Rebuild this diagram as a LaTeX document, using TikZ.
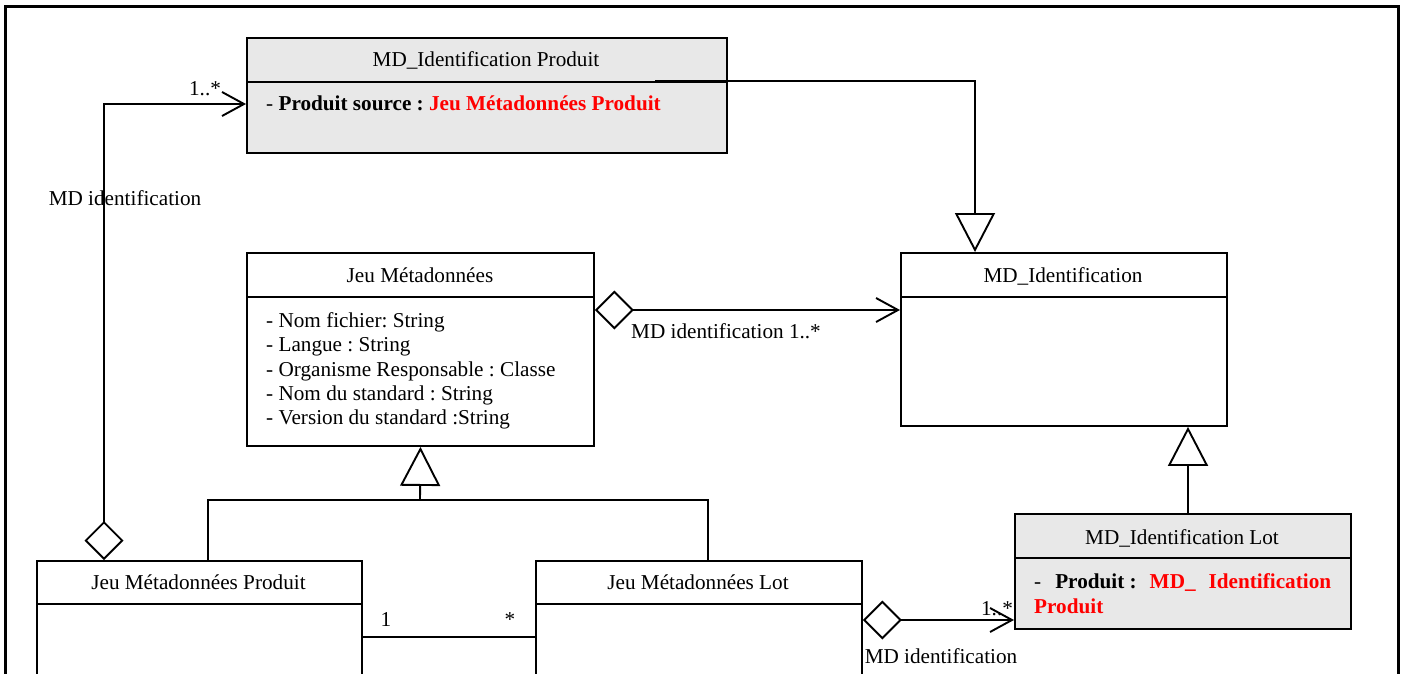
\documentclass[tikz,border=0pt]{standalone}
\usepackage{fontspec}
\setmainfont{Liberation Serif}
\usetikzlibrary{arrows.meta}
\definecolor{umlgray}{HTML}{E8E8E8}
\definecolor{umlred}{HTML}{FF0000}
\newcommand{\umlfont}{\fontsize{21.2pt}{24.3pt}\selectfont\frenchspacing}
\begin{document}
\begin{tikzpicture}[x=1pt,y=-1pt,
  umlbox/.style={draw, line width=1.9pt, inner sep=0pt, anchor=north west},
  line/.style={draw, line width=1.9pt},
  gen/.style={line, -{Triangle[open, fill=white, length=39pt, width=40pt]}},
  agg/.style={line, {Diamond[open, fill=white, length=39pt, width=39pt]}-{Straight Barb[length=22pt, width=24pt]}},
  txt/.style={inner sep=0pt, font=\umlfont, text height=14pt, text depth=0pt},
  attr/.style={txt, anchor=west},
  hl/.style={text=umlred}]
\useasboundingbox (0,0) rectangle (1405,674);
\clip (0,0) rectangle (1405,674);

% outer frame
\draw[line width=3pt] (5,7) rectangle (1398,700);

% classes
\node[umlbox, fill=umlgray, minimum width=480pt, minimum height=115pt] (mdip) at (246,37) {};
\draw[line] ([yshift=-45pt]mdip.north west) -- ([yshift=-45pt]mdip.north east);
\node[txt] (mdipT) at (486,60) {MD\_Identification Produit};
\node[attr] (mdipA) at (266,104) {- \textbf{Produit source : }\textbf{\textcolor{umlred}{Jeu Métadonnées Produit}}};

\node[umlbox, minimum width=326pt, minimum height=173pt] (mdi) at (900,252) {};
\draw[line] ([yshift=-45pt]mdi.north west) -- ([yshift=-45pt]mdi.north east);
\node[txt] (mdiT) at (1063,275) {MD\_Identification};

\node[umlbox, minimum width=347pt, minimum height=193pt] (jm) at (246,252) {};
\draw[line] ([yshift=-45pt]jm.north west) -- ([yshift=-45pt]jm.north east);
\node[txt] (jmT) at (420,275) {Jeu Métadonnées};
\node[attr] (jma1) at (266,320) {- Nom fichier: String};
\node[attr] (jma2) at (266,344) {- Langue : String};
\node[attr] (jma3) at (266,369) {- Organisme Responsable : Classe};
\node[attr] (jma4) at (266,393) {- Nom du standard : String};
\node[attr] (jma5) at (266,417) {- Version du standard :String};

\node[umlbox, minimum width=325pt, minimum height=140pt] (jmp) at (36,560) {};
\draw[line] ([yshift=-44pt]jmp.north west) -- ([yshift=-44pt]jmp.north east);
\node[txt] (jmpT) at (198.5,582) {Jeu Métadonnées Produit};

\node[umlbox, minimum width=326pt, minimum height=140pt] (jml) at (535,560) {};
\draw[line] ([yshift=-44pt]jml.north west) -- ([yshift=-44pt]jml.north east);
\node[txt] (jmlT) at (698,582) {Jeu Métadonnées Lot};

\node[umlbox, fill=umlgray, minimum width=336pt, minimum height=115pt] (mdil) at (1014,513) {};
\draw[line] ([yshift=-45pt]mdil.north west) -- ([yshift=-45pt]mdil.north east);
\node[txt] (mdilT) at (1182,537) {MD\_Identification Lot};
\node[attr] (mdilA1) at (1034,581) {-\hspace{14pt}\textbf{Produit :}\hspace{13pt}\textbf{\textcolor{umlred}{MD\_}}\hspace{13pt}\textbf{\textcolor{umlred}{Identification}}};
\node[attr] (mdilA2) at (1034,606) {\textbf{\textcolor{umlred}{Produit}}};

% generalisations
\draw[gen] ([shift={(409pt,-44pt)}]mdip.north west) -| ([xshift=75pt]mdi.north west);
\coordinate (hub) at (420,500);
\draw[gen] (hub) -- (jm.south);
\draw[line] ([xshift=172pt]jmp.north west) |- (hub) -| ([xshift=173pt]jml.north west);
\coordinate (lotTop) at ([xshift=174pt]mdil.north west);
\draw[gen] (lotTop) -- (lotTop |- mdi.south);

% aggregations
\draw[agg] ([yshift=-58pt]jm.north east) -- ([yshift=-58pt]mdi.north west);
\draw[agg] ([xshift=68pt]jmp.north west) |- ([yshift=-67pt]mdip.north west);
\coordinate (lotAgg) at ([yshift=-60pt]jml.north east);
\draw[agg] (lotAgg) -- (lotAgg -| mdil.west);

% association
\coordinate (assoc) at ([yshift=-77pt]jmp.north east);
\draw[line] (assoc) -- (assoc -| jml.west);

% labels
\node[txt] (l1) at (205,89) {1..*};
\node[txt] (l2) at (125,198) {MD identification};
\node[txt] (l3) at (726,331) {MD identification 1..*};
\node[txt] (l4) at (386,619) {1};
\node[txt] (l5) at (510,619) {*};
\node[txt] (l6) at (997,608) {1..*};
\node[txt] (l7) at (941,656) {MD identification};
\end{tikzpicture}
\end{document}
